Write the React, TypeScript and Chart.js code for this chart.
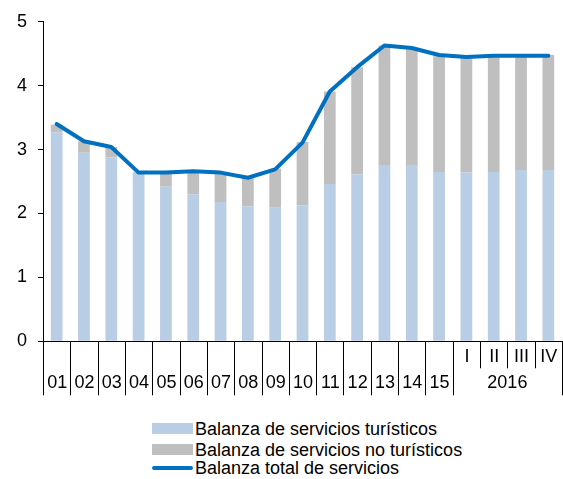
import React, { useEffect, useRef } from "react";
import { Chart, registerables } from "chart.js";

Chart.register(...registerables);

const categories = ["01", "02", "03", "04", "05", "06", "07", "08", "09", "10", "11", "12", "13", "14", "15", "I", "II", "III", "IV"];
const yearRowLabels = ["01", "02", "03", "04", "05", "06", "07", "08", "09", "10", "11", "12", "13", "14", "15"];
const quarterLabels = ["I", "II", "III", "IV"];
const groupYear = "2016";

const turisticos = [3.27, 2.95, 2.88, 2.64, 2.42, 2.30, 2.18, 2.11, 2.09, 2.13, 2.46, 2.61, 2.76, 2.76, 2.65, 2.64, 2.65, 2.68, 2.68];
const noTuristicos = [0.12, 0.18, 0.16, 0.01, 0.22, 0.35, 0.45, 0.45, 0.61, 0.99, 1.45, 1.68, 1.87, 1.81, 1.81, 1.80, 1.81, 1.79, 1.80];
const total = [3.40, 3.13, 3.04, 2.64, 2.64, 2.66, 2.64, 2.56, 2.69, 3.11, 3.91, 4.29, 4.63, 4.59, 4.48, 4.45, 4.47, 4.47, 4.47];

const yTicks = [0, 1, 2, 3, 4, 5];

const seriesNames = [
  "Balanza de servicios turísticos",
  "Balanza de servicios no turísticos",
  "Balanza total de servicios",
];

const FONT = "'Liberation Sans', Arial, sans-serif";
const BLUE_LIGHT = "#B9CDE5";
const GREY = "#BFBFBF";
const BLUE = "#0070C0";

const W = 563;
const H = 410;
const X_AXIS_BOTTOM = 341.3;

const xAxisPlugin = {
  id: "twoLevelX",
  afterDraw(chart: any) {
    const { ctx, scales } = chart;
    const x = scales.x;
    const y0 = chart.chartArea.bottom;
    const n = categories.length;
    const step = (x.getPixelForValue(n - 1) - x.getPixelForValue(0)) / (n - 1);
    ctx.save();
    ctx.strokeStyle = "#000";
    ctx.lineWidth = 1;
    const nYears = yearRowLabels.length;
    for (let b = 0; b <= n; b++) {
      const px = Math.round(x.getPixelForValue(0) - step / 2 + b * step) + 0.5;
      const isQuarterInner = b > nYears && b < n;
      const len = isQuarterInner ? 27 : 54;
      ctx.beginPath();
      ctx.moveTo(px, y0);
      ctx.lineTo(px, y0 + len);
      ctx.stroke();
    }
    ctx.fillStyle = "#000";
    ctx.font = `18px ${FONT}`;
    ctx.textAlign = "center";
    ctx.textBaseline = "middle";
    yearRowLabels.forEach((lab, i) => {
      ctx.fillText(lab, x.getPixelForValue(i) + 0.5, y0 + 42);
    });
    quarterLabels.forEach((lab, i) => {
      ctx.fillText(lab, x.getPixelForValue(nYears + i) + 0.5, y0 + 16);
    });
    const gc = (x.getPixelForValue(nYears) + x.getPixelForValue(n - 1)) / 2;
    ctx.fillText(groupYear, gc, y0 + 42);
    ctx.restore();
  },
};

export default function App() {
  const ref = useRef<HTMLCanvasElement | null>(null);

  useEffect(() => {
    if (!ref.current) return;
    const chart = new Chart(ref.current, {
      type: "bar",
      data: {
        labels: categories,
        datasets: [
          {
            type: "bar",
            label: seriesNames[0],
            data: turisticos,
            backgroundColor: BLUE_LIGHT,
            stack: "bars",
            order: 2,
            barPercentage: 0.43,
            categoryPercentage: 1,
          },
          {
            type: "bar",
            label: seriesNames[1],
            data: noTuristicos,
            backgroundColor: GREY,
            stack: "bars",
            order: 2,
            barPercentage: 0.43,
            categoryPercentage: 1,
          },
          {
            type: "line",
            label: seriesNames[2],
            data: total,
            borderColor: BLUE,
            backgroundColor: BLUE,
            borderWidth: 4,
            pointRadius: 0,
            tension: 0,
            borderJoinStyle: "round",
            borderCapStyle: "round",
            stack: "total",
            order: 0,
          } as any,
        ],
      },
      options: {
        animation: false,
        responsive: false,
        maintainAspectRatio: false,
        layout: { padding: { top: 15, right: 1, left: 0, bottom: 0 } },
        plugins: {
          legend: { display: false },
          tooltip: { enabled: false },
        },
        scales: {
          x: {
            type: "category",
            stacked: true,
            offset: true,
            grid: { display: false },
            border: { display: true, color: "#000", width: 1 },
            ticks: { display: false },
            afterFit(scale: any) {
              scale.height = H - X_AXIS_BOTTOM;
            },
          },
          y: {
            stacked: true,
            min: 0,
            max: 5,
            afterBuildTicks(scale: any) {
              scale.ticks = yTicks.map((v) => ({ value: v }));
            },
            grid: {
              display: true,
              drawOnChartArea: false,
              drawTicks: true,
              tickLength: 5,
              color: "#000",
            },
            border: { display: true, color: "#000", width: 1 },
            ticks: {
              color: "#000",
              padding: 11,
              font: { family: FONT, size: 18 },
            },
            afterFit(scale: any) {
              scale.width = 43;
            },
          },
        },
      },
      plugins: [xAxisPlugin],
    });
    return () => chart.destroy();
  }, []);

  const legendRow = (i: number, top: number, kind: "box" | "line", color: string) => (
    <div
      key={i}
      style={{
        position: "absolute",
        left: 152,
        top: top - 10,
        height: 20,
        display: "flex",
        alignItems: "center",
        whiteSpace: "nowrap",
      }}
    >
      <div
        style={{
          width: 41,
          height: kind === "box" ? 11 : 4,
          background: color,
          borderRadius: kind === "line" ? 2 : 0,
          marginRight: 2,
        }}
      />
      <span style={{ font: `18px ${FONT}`, color: "#000", lineHeight: "20px" }}>{seriesNames[i]}</span>
    </div>
  );

  return (
    <div style={{ position: "absolute", left: 0, top: 0, width: W, height: 479, background: "#fff" }}>
      <canvas ref={ref} width={W} height={H} style={{ display: "block", width: W, height: H }} />
      {legendRow(0, 428.7, "box", BLUE_LIGHT)}
      {legendRow(1, 449.7, "box", GREY)}
      {legendRow(2, 468, "line", BLUE)}
    </div>
  );
}
